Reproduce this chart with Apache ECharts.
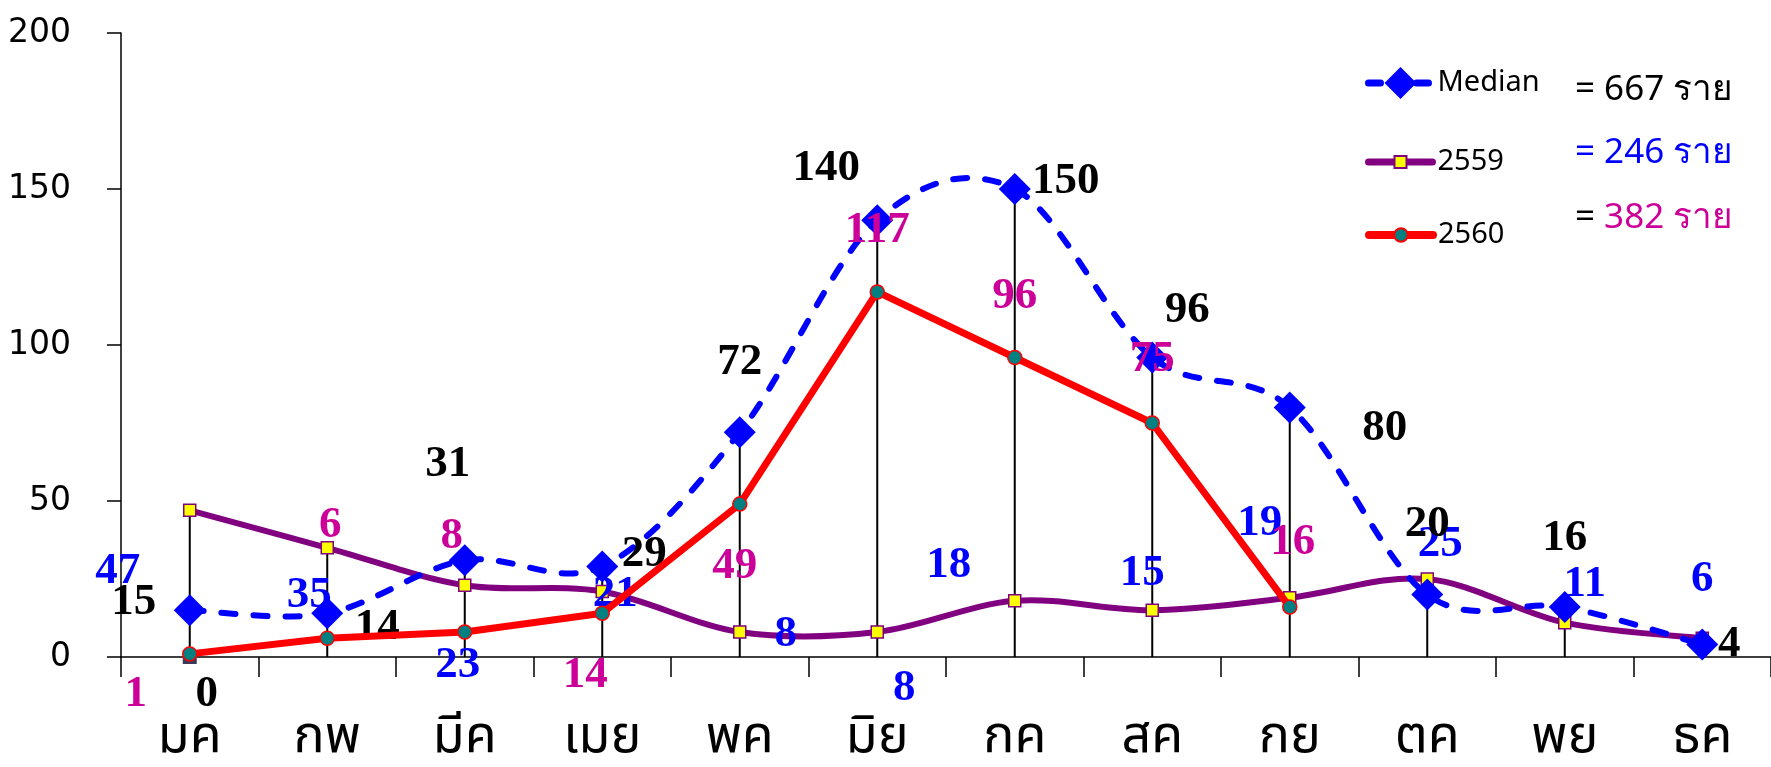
<!DOCTYPE html>
<html><head><meta charset="utf-8">
<script src="https://cdn.jsdelivr.net/npm/echarts@6/dist/echarts.min.js"></script>
<style>html,body{margin:0;padding:0;background:#fff}#c{width:1771px;height:767px}</style>
</head><body><div id="c"></div>
<script>
// ---- data ----
const months = ['มค','กพ','มีค','เมย','พค','มิย','กค','สค','กย','ตค','พย','ธค'];
const median = [15,14,31,29,72,140,150,96,80,20,16,4];
const y2559  = [47,35,23,21,8,8,18,15,19,25,11,6];
const y2560  = [1,6,8,14,49,117,96,75,16];
const janZero = [0];
const seriesNames = ['Median','2559','2560'];
const totalTexts = ['667 ราย','246 ราย','382 ราย'];

// ---- label placement (layout only) ----
const medianOff = [[-56,-8],[50,14],[-17,-96],[42,-12],[0,-70],[-51,-52],[51,-8],[35,-47],[95,21],[0,-70],[0,-69],[27,0]];
const off2559 = [[-72,61],[-18,48],[-7,80],[13,3],[46,2],[27,56],[-66,-35],[-10,-37],[-30,-74],[13,-35],[20,-38],[0,-59]];
const off2560 = [[-54,40],[3,-113],[-13,-96],[-17,62],[-5,62],[0,-62],[0,-61],[0,-64],[3,-65]];
const zeroOff = [[17,37]];

const BLUE = '#0000FF', PURPLE = '#800080', RED = '#FF0000', MAGENTA = '#CC0099';
const MEDIAN_DASH = [14, 18];

const withOff = (arr, off) => arr.map((v,i) => ({value: v, label: {offset: off[i]}}));
const dropData = months.map((m,i) => [i, Math.max(median[i], y2559[i], (y2560[i] !== undefined ? y2560[i] : 0))]);

// Excel-like smoothed curve (cubic Bezier through the points, tension 1/6)
function smoothCurve(arr, style) {
  return function(params, api) {
    if (params.dataIndex !== 0) return null;
    const pts = arr.map((v,i) => api.coord([i, v]));
    let d = 'M' + pts[0][0] + ',' + pts[0][1];
    for (let i = 0; i < pts.length - 1; i++) {
      const p0 = pts[Math.max(i-1,0)], p1 = pts[i], p2 = pts[i+1], p3 = pts[Math.min(i+2, pts.length-1)];
      const c1x = p1[0] + (p2[0]-p0[0])/6, c1y = p1[1] + (p2[1]-p0[1])/6;
      const c2x = p2[0] - (p3[0]-p1[0])/6, c2y = p2[1] - (p3[1]-p1[1])/6;
      d += ' C' + c1x + ',' + c1y + ' ' + c2x + ',' + c2y + ' ' + p2[0] + ',' + p2[1];
    }
    return {type: 'path', shape: {pathData: d}, style: Object.assign({fill: null}, style)};
  };
}

const lblBase = {show: true, position: 'inside', fontFamily: 'Liberation Serif', fontWeight: 'bold', fontSize: 45};
const legendBase = {orient: 'vertical', left: 1360, itemWidth: 64, selectedMode: false,
  textStyle: {fontFamily: 'Noto Sans', fontSize: 29, lineHeight: 30, color: '#000'}};

const chart = echarts.init(document.getElementById('c'), null, {renderer: 'canvas'});
chart.setOption({
  animation: false,
  backgroundColor: '#fff',
  grid: {left: 121, right: -9, top: 33, bottom: 102},
  legend: [
    Object.assign({}, legendBase, {top: 62, itemHeight: 40,
      data: [{name: seriesNames[0], lineStyle: {opacity: 1, color: BLUE, width: 7, type: [12, 12], cap: 'round'}}]}),
    Object.assign({}, legendBase, {top: 142, itemHeight: 15,
      data: [{name: seriesNames[1], lineStyle: {opacity: 1, color: PURPLE, width: 7, cap: 'round'}}]}),
    Object.assign({}, legendBase, {top: 215, itemHeight: 17,
      data: [{name: seriesNames[2], lineStyle: {opacity: 1, color: RED, width: 8, cap: 'round'}}]})
  ],
  xAxis: {
    type: 'category', data: months, boundaryGap: true,
    axisLine: {lineStyle: {color: '#000', width: 1.5}},
    axisTick: {show: true, length: 20, interval: 0, lineStyle: {color: '#000', width: 1.5}},
    axisLabel: {margin: 58, color: '#000', fontSize: 52, fontFamily: "'Noto Sans Thai','Noto Sans',sans-serif"}
  },
  yAxis: {
    type: 'value', min: 0, max: 200, interval: 50,
    axisLine: {show: true, lineStyle: {color: '#000', width: 1.5}},
    axisTick: {show: true, length: 14, lineStyle: {color: '#000', width: 1.5}},
    splitLine: {show: false},
    axisLabel: {margin: 50, color: '#000', fontSize: 33, fontFamily: 'DejaVu Sans'}
  },
  graphic: [
    {type: 'text', x: 1575, y: 90, style: {text: '{k|= }{k|' + totalTexts[0] + '}', verticalAlign: 'middle', rich: {k: {fill: '#000', fontSize: 35, fontFamily: 'Noto Sans'}}}},
    {type: 'text', x: 1575, y: 153, style: {text: '{b|= }{b|' + totalTexts[1] + '}', verticalAlign: 'middle', rich: {b: {fill: BLUE, fontSize: 35, fontFamily: 'Noto Sans'}}}},
    {type: 'text', x: 1575, y: 218, style: {text: '{k|= }{m|' + totalTexts[2] + '}', verticalAlign: 'middle', rich: {k: {fill: '#000', fontSize: 35, fontFamily: 'Noto Sans'}, m: {fill: MAGENTA, fontSize: 35, fontFamily: 'Noto Sans'}}}}
  ],
  series: [
    {
      type: 'custom', z: 2, silent: true, data: y2559.map((v,i) => [i, v]),
      renderItem: smoothCurve(y2559, {stroke: PURPLE, lineWidth: 6, lineJoin: 'round', lineCap: 'round'})
    },
    {
      type: 'custom', z: 2, silent: true, data: median.map((v,i) => [i, v]),
      renderItem: smoothCurve(median, {stroke: BLUE, lineWidth: 6, lineDash: MEDIAN_DASH, lineCap: 'round'})
    },
    {
      type: 'custom', z: 3, silent: true,
      renderItem: (params, api) => {
        const top = api.coord([api.value(0), api.value(1)]);
        const bot = api.coord([api.value(0), 0]);
        return {type: 'line', shape: {x1: top[0], y1: top[1], x2: bot[0], y2: bot[1]}, style: {stroke: '#000', lineWidth: 2}};
      },
      data: dropData
    },
    {
      name: '_zero', type: 'line', z: 1, data: withOff(janZero, zeroOff),
      symbol: 'rect', symbolSize: 14, itemStyle: {color: '#3a3a5a'}, lineStyle: {width: 0},
      label: Object.assign({}, lblBase, {color: '#000'})
    },
    {
      name: seriesNames[1], type: 'line', z: 4, data: withOff(y2559, off2559),
      symbol: 'rect', symbolSize: 12,
      itemStyle: {color: '#FFFF00', borderColor: PURPLE, borderWidth: 1.5},
      lineStyle: {color: PURPLE, width: 6, opacity: 0},
      label: Object.assign({}, lblBase, {color: BLUE})
    },
    {
      name: seriesNames[0], type: 'line', z: 5, data: withOff(median, medianOff),
      symbol: 'diamond', symbolSize: 32,
      itemStyle: {color: BLUE},
      lineStyle: {color: BLUE, width: 6, opacity: 0},
      label: Object.assign({}, lblBase, {color: '#000'})
    },
    {
      name: seriesNames[2], type: 'line', z: 6, smooth: false, data: withOff(y2560, off2560),
      symbol: 'circle', symbolSize: 14,
      itemStyle: {color: '#008080', borderColor: RED, borderWidth: 1.5},
      lineStyle: {color: RED, width: 7},
      label: Object.assign({}, lblBase, {color: MAGENTA})
    }
  ]
});
</script>
</body></html>
